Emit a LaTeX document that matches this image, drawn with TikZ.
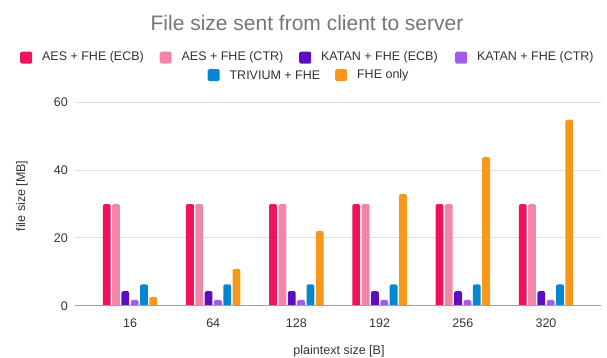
\documentclass[tikz,border=0pt]{standalone}
\usepackage{fontspec}
\setmainfont{Liberation Sans}
\usepackage{tikz}
\usetikzlibrary{positioning}

\begin{document}
\begin{tikzpicture}[x=1pt,y=-1pt,
	ticklab/.style={font=\fontsize{12.5}{15}\selectfont, text=textgray, inner sep=0pt},
	legsq/.style={fill=#1, rounded corners=1.5pt, minimum size=12pt, inner sep=0pt, anchor=north west},
	legtxt/.style={font=\fontsize{12.5}{15}\selectfont, text=textgray, inner sep=0pt},
	gridln/.style={draw=gray!25, line width=1pt}]

	\definecolor{textgray}{HTML}{333333}
	\definecolor{titlegray}{HTML}{757575}
	\definecolor{aesecb}{HTML}{F0125A}
	\definecolor{aesctr}{HTML}{F186A9}
	\definecolor{katecb}{HTML}{5C0DBF}
	\definecolor{katctr}{HTML}{A45CE8}
	\definecolor{triv}{HTML}{0288CF}
	\definecolor{fheonly}{HTML}{F7981D}

	%axes
	\def\ybase{305.7}
	\def\yunit{3.39}
	\def\xleft{75}
	\def\xright{601}

	\useasboundingbox (0,0) rectangle (607,358);

	% title
	\node[font=\fontsize{21}{25}\selectfont, text=titlegray, inner sep=0pt] (title) at (307,23)
		{File size sent from client to server};

	% legend, first row
	\node[legsq=aesecb] (sqA) at (20,51.5) {};
	\node[legtxt, right=9.5pt of sqA] (txtA) {AES + FHE (ECB)};
	\node[legsq=aesctr] (sqB) at (159.5,51.5) {};
	\node[legtxt, right=9.5pt of sqB] (txtB) {AES + FHE (CTR)};
	\node[legsq=katecb] (sqC) at (299,51.5) {};
	\node[legtxt, right=9.5pt of sqC] (txtC) {KATAN + FHE (ECB)};
	\node[legsq=katctr] (sqD) at (455,51.5) {};
	\node[legtxt, right=9.5pt of sqD] (txtD) {KATAN + FHE (CTR)};

	% legend, second row
	\node[legsq=triv] (sqE) at (207.5,69) {};
	\node[legtxt, right=9.5pt of sqE] (txtE) {TRIVIUM + FHE};
	\node[legsq=fheonly] (sqF) at (335,69) {};
	\node[legtxt, right=9.5pt of sqF] (txtF) {FHE only};

	% grid and y ticks
	\foreach \v in {20,40,60}
		\draw[gridln] (\xleft,{\ybase-\yunit*\v}) -- (\xright,{\ybase-\yunit*\v});
	\foreach \v in {0,20,40,60}
		\node[ticklab, anchor=east] (yl\v) at (68,{\ybase-\yunit*\v}) {\v};

	% x labels
	\foreach \g [count=\i from 0] in {16,64,128,192,256,320}
		\node[ticklab] (xl\i) at ({130+83.2*\i},323) {\g};

	% bars (clipped at the baseline, so only the tops are round)
	\begin{scope}
		\clip (\xleft,0) rectangle (\xright,\ybase);
		\foreach \fhe [count=\i from 0] in {2.6,10.9,22,32.9,43.8,54.9} {
			\pgfmathsetmacro\cx{130+83.2*\i}
			\foreach \k/\v/\c in {0/30/aesecb,1/30/aesctr,2/4.3/katecb,3/1.7/katctr,4/6.3/triv,5/\fhe/fheonly} {
				\pgfmathsetmacro\xa{\cx+(\k-2.5)*9.33-3.9}
				\pgfmathsetmacro\xb{\xa+7.8}
				\pgfmathsetmacro\ytop{\ybase-\yunit*\v}
				\fill[\c, rounded corners=1.5pt] (\xa,\ybase+4) rectangle (\xb,\ytop);
			}
		}
	\end{scope}

	% baseline
	\draw[gray!75, line width=1.2pt] (\xleft,\ybase) -- (\xright,\ybase);

	% axis titles
	\node[ticklab] (xtitle) at (339,351) {plaintext size [B]};
	\node[ticklab, rotate=90] (ytitle) at (22,196) {file size [MB]};

\end{tikzpicture}
\end{document}
